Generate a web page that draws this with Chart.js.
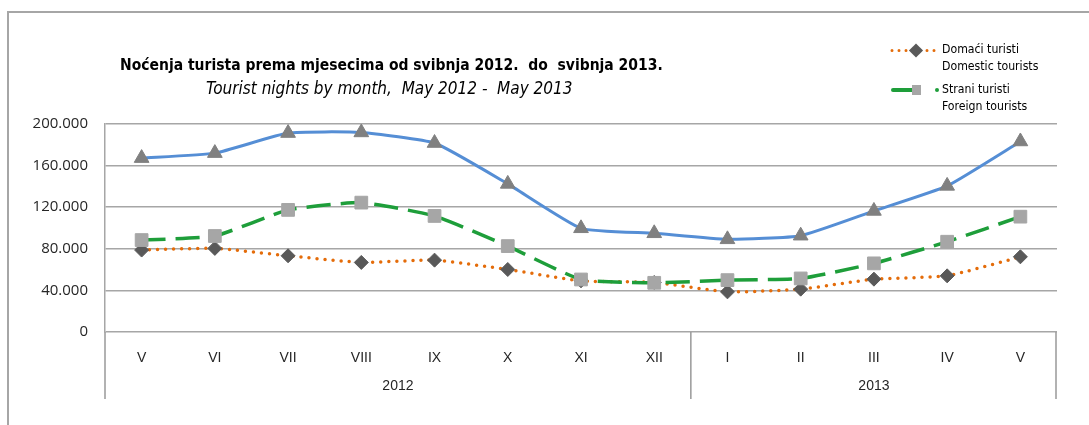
<!DOCTYPE html>
<html>
<head>
<meta charset="utf-8">
<script src="https://cdn.jsdelivr.net/npm/chart.js@4/dist/chart.umd.min.js"></script>
<style>
  html, body { margin: 0; padding: 0; background: #fff; }
  #wrap { position: relative; width: 1089px; height: 425px; overflow: hidden; }
  #frame { position: absolute; left: 7px; top: 11px; width: 1100px; height: 430px;
           border-left: 2px solid #a6a6a6; border-top: 2px solid #a6a6a6; }
  canvas { position: absolute; left: 0; top: 0; }
  .t { position: absolute; white-space: nowrap; color: #000; }
  #title { left: 120px; top: 56px; font: bold 15.5px "DejaVu Sans Condensed", sans-serif; }
  #sub { left: 206px; top: 78px; font: italic 17px "DejaVu Sans Condensed", sans-serif; }
  .lg { position: absolute; left: 942px; font: 12.2px "DejaVu Sans Condensed", sans-serif; color: #000; white-space: nowrap; }
  svg { position: absolute; left: 0; top: 0; }
</style>
</head>
<body>
<div id="wrap">
  <div id="frame"></div>
  <canvas id="myChart" width="1089" height="425"></canvas>
  <div class="t" id="title">Noćenja turista prema mjesecima od svibnja 2012.&nbsp; do&nbsp; svibnja 2013.</div>
  <div class="t" id="sub">Tourist nights by month,&nbsp; May 2012 -&nbsp; May 2013</div>
  <svg width="1089" height="425">
    <line x1="892" y1="50.5" x2="935" y2="50.5" stroke="#e46c0a" stroke-width="3" stroke-dasharray="0 7" stroke-linecap="round"/>
    <rect x="911" y="45.5" width="10" height="10" fill="#595959" transform="rotate(45 916 50.5)"/>
    <line x1="893" y1="90" x2="912" y2="90" stroke="#1e9e3a" stroke-width="4" stroke-linecap="round"/>
    <rect x="912" y="85" width="9" height="10" fill="#a6a6a6"/>
    <circle cx="937" cy="90" r="2" fill="#1e9e3a"/>
  </svg>
  <div class="lg" style="top:42px">Domaći turisti</div>
  <div class="lg" style="top:59px">Domestic tourists</div>
  <div class="lg" style="top:82px">Strani turisti</div>
  <div class="lg" style="top:99px">Foreign tourists</div>
</div>
<script>
const months = ['V', 'VI', 'VII', 'VIII', 'IX', 'X', 'XI', 'XII', 'I', 'II', 'III', 'IV', 'V']
const years = ['2012', '2013']
const yearSpans = [8, 5]

const total = [167200, 172000, 191300, 191900, 181700, 142400, 99700, 94900, 89100, 92600, 116400, 140500, 183200]
const foreign = [88400, 92300, 117400, 124400, 111600, 82600, 50500, 47300, 49900, 51500, 66000, 86800, 110900]
const domestic = [78800, 80400, 73300, 66900, 69100, 60100, 49200, 47600, 38600, 41200, 50800, 54000, 72300]

const yTicks = [0, 40000, 80000, 120000, 160000, 200000]

// year row under the month labels, with the separators
const yearRow = {
  id: 'yearRow',
  afterDraw(chart) {
    const x = chart.scales.x
    const ctx = chart.ctx
    const bottom = chart.chartArea.bottom
    const w = (x.right - x.left) / months.length
    ctx.save()
    ctx.strokeStyle = '#999999'
    ctx.lineWidth = 1.5
    let start = 0
    const edges = [x.getPixelForTick(0) - w / 2]
    yearSpans.forEach((n, i) => {
      const left = x.getPixelForTick(start) - w / 2
      const right = x.getPixelForTick(start + n - 1) + w / 2
      edges.push(Math.min(right, chart.width - 33))
      ctx.fillStyle = '#262626'
      ctx.font = '14px "Liberation Sans", Arial, sans-serif'
      ctx.textAlign = 'center'
      ctx.textBaseline = 'middle'
      ctx.fillText(years[i], (left + right) / 2, 386)
      start += n
    })
    edges.forEach(px => {
      ctx.beginPath()
      ctx.moveTo(px, bottom)
      ctx.lineTo(px, 399)
      ctx.stroke()
    })
    ctx.restore()
  }
}

new Chart('myChart', {
  type: 'line',
  data: {
    labels: months,
    datasets: [
      {
        data: total,
        borderColor: '#558ed5',
        borderWidth: 3,
        pointStyle: 'triangle',
        pointRadius: 8.5,
        pointBackgroundColor: '#808080',
        pointBorderColor: '#808080',
        pointBorderWidth: 1,
        tension: 0.15,
        order: 1
      },
      {
        data: foreign,
        borderColor: '#1e9e3a',
        borderWidth: 3.5,
        borderDash: [24, 10],
        pointStyle: 'rect',
        pointRadius: 9,
        pointBackgroundColor: '#a6a6a6',
        pointBorderColor: '#a6a6a6',
        pointBorderWidth: 1,
        tension: 0.15,
        order: 2
      },
      {
        data: domestic,
        borderColor: '#e46c0a',
        borderWidth: 3.5,
        borderDash: [0, 8],
        borderCapStyle: 'round',
        pointStyle: 'rectRot',
        pointRadius: 7,
        pointBackgroundColor: '#595959',
        pointBorderColor: '#595959',
        pointBorderWidth: 1,
        tension: 0.15,
        order: 3
      }
    ]
  },
  options: {
    responsive: false,
    animation: false,
    layout: { padding: { left: 0, top: 124, right: 32, bottom: 0 } },
    plugins: { legend: { display: false }, tooltip: { enabled: false } },
    scales: {
      x: {
        offset: true,
        grid: { display: false },
        border: { display: false },
        ticks: { padding: 10, color: '#262626', font: { family: '"Liberation Sans", Arial, sans-serif', size: 14 }, maxRotation: 0 },
        afterFit: (s) => { s.height = 93 }
      },
      y: {
        min: 0,
        max: 200000,
        afterBuildTicks: (s) => { s.ticks = yTicks.map(v => ({ value: v })) },
        grid: { color: '#a6a6a6', lineWidth: 1.5, drawTicks: false },
        border: { display: true, color: '#a6a6a6', width: 1.5 },
        ticks: {
          padding: 17,
          color: '#262626',
          font: { family: '"Open Sans", sans-serif', size: 15 },
          callback: (v) => v.toLocaleString('de-DE')
        },
        afterFit: (s) => { s.width = 105 }
      }
    }
  },
  plugins: [yearRow]
})
</script>
</body>
</html>
